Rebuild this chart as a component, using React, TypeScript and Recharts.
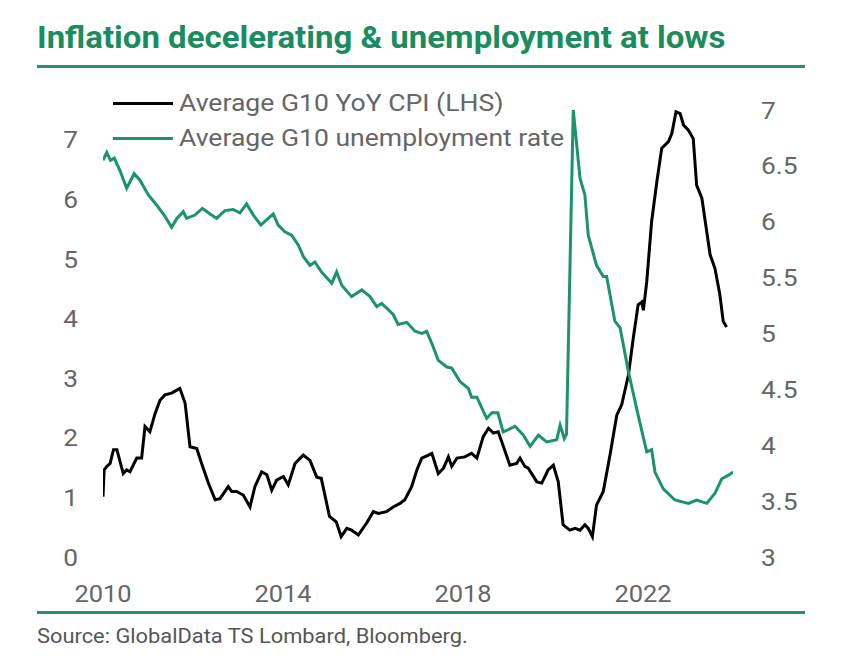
import { LineChart, Line, XAxis, YAxis, Legend } from "recharts"

const GREEN = "#1b9468"
const RULE = "#2a8f6e"
const GREY = "#666666"

// months since Jan 2010
const cpiMonths = [
  0, 0.3, 1, 1.9, 2.8, 3.7, 5.4, 6.3, 7.2, 9, 10.3, 11.2, 12.5, 13.9, 15.2, 16.5, 18.3, 20.5,
  21.9, 23.2, 25, 26.3, 28.1, 29.9, 31.2, 33.4, 34.3, 35.6, 37.4, 39.2, 40.5, 42.3, 43.7, 45,
  46.3, 48.1, 49.4, 51.2, 53.4, 55.2, 57, 58.2, 60.4, 62.2, 63.5, 65, 66.3, 68.1, 70.3, 72.1,
  73.4, 75.6, 77.4, 79.2, 80.5, 82.3, 83.7, 85, 86.8, 87.7, 89.4, 90.8, 92.1, 93, 94.4, 96.5,
  98.3, 99.7, 101.4, 102.8, 104.1, 105.4, 106.8, 108.5, 110.3, 111.2, 112.5, 113.4, 115.7,
  117, 118.7, 120.1, 121.4, 122.7, 124.5, 125.9, 127.2, 128.5, 129.4, 130.5, 131.6, 133.4,
  135.2, 137, 138.3, 140.1, 141.4, 142.7, 143.7, 144.1, 145, 146.3, 147.7, 149, 150.8, 151.7,
  152.8, 153.9, 154.8, 156.1, 157.4, 158.3, 159.7, 161.9, 163.2, 164.5, 165.4, 166.3,
]
const cpiValues = [
  1.01, 1.46, 1.52, 1.57, 1.8, 1.8, 1.4, 1.46, 1.43, 1.66, 1.66, 2.19, 2.1, 2.41, 2.63, 2.72, 2.75, 2.83,
  2.58, 1.85, 1.82, 1.57, 1.24, 0.96, 0.98, 1.18, 1.1, 1.1, 1.04, 0.84, 1.18, 1.43, 1.38, 1.12,
  1.29, 1.35, 1.21, 1.57, 1.71, 1.62, 1.34, 1.32, 0.68, 0.59, 0.34, 0.48, 0.45, 0.37, 0.57, 0.76,
  0.73, 0.76, 0.84, 0.9, 0.96, 1.18, 1.46, 1.66, 1.71, 1.74, 1.4, 1.49, 1.68, 1.52, 1.66, 1.68,
  1.74, 1.66, 2.02, 2.16, 2.08, 2.1, 1.85, 1.54, 1.57, 1.66, 1.52, 1.49, 1.26,
  1.24, 1.46, 1.54, 1.26, 0.54, 0.45, 0.48, 0.45, 0.54, 0.48, 0.34, 0.87, 1.1,
  1.71, 2.38, 2.55, 3.05, 3.67, 4.23, 4.28, 4.14, 4.62, 5.63, 6.3, 6.86, 6.97, 7.11,
  7.47, 7.44, 7.25, 7.16, 7.02, 6.24, 6.02, 5.07, 4.84, 4.4, 3.95, 3.86,
]

const unempMonths = [
  0, 1, 2, 3, 4.5, 6.3, 8.3, 9.9, 12.1, 14.3, 16.5, 18.3, 19.7, 21.4, 22.3, 24.5, 26.5, 28.1,
  30.3, 32.5, 34.7, 36.5, 38.3, 40.1, 42.1, 43.7, 45.4, 46.7, 48.5, 50.3, 52.1, 53.4, 55.2,
  56.5, 58.3, 61, 62.3, 63.7, 66.3, 69, 71.2, 73, 74.3, 77.4, 78.7, 81, 83.2, 85, 86.3, 87.7,
  89.4, 91.7, 93, 95.2, 97.4, 98.3, 99.7, 102.3, 103.7, 105.3, 106.7, 108.1, 109.9, 112.1,
  113.9, 116.1, 118.3, 121, 121.9, 123, 123.6, 125.4, 127.2, 128.5, 129.4, 131.6, 133.4, 134.3,
  136.5, 137.9, 140.1, 142.7, 145, 146.3, 147.2, 149.4, 152.5, 156.1, 158.3, 161, 163.2, 165,
  166.7, 168,
]
const unempValues = [
  6.55, 6.62, 6.55, 6.57, 6.46, 6.3, 6.43, 6.37, 6.24, 6.15, 6.05, 5.95, 6.03, 6.09, 6.03, 6.06, 6.12, 6.08,
  6.03, 6.1, 6.11, 6.08, 6.16, 6.06, 5.97, 6.02, 6.07, 5.97, 5.91, 5.88, 5.79, 5.69, 5.61,
  5.64, 5.55, 5.45, 5.55, 5.43, 5.33, 5.39, 5.33, 5.24, 5.27, 5.17, 5.08, 5.1, 5.02, 5.0, 5.02, 4.91,
  4.76, 4.7, 4.69, 4.57, 4.51, 4.43, 4.43, 4.24, 4.29, 4.29, 4.12, 4.14, 4.17, 4.09,
  3.99, 4.09, 4.03, 4.05, 4.18, 4.06, 4.1, 7.0, 6.39, 6.24, 5.88, 5.61, 5.51, 5.51,
  5.11, 5.05, 4.66, 4.27, 3.94, 3.96, 3.76, 3.61, 3.51, 3.48, 3.51, 3.48, 3.57, 3.7,
  3.73, 3.76,
]

const xTicks = [2010, 2014, 2018, 2022]
const leftTicks = [0, 1, 2, 3, 4, 5, 6, 7]
const rightTicks = [3, 3.5, 4, 4.5, 5, 5.5, 6, 6.5, 7]

const cpiData = cpiMonths.map((m, i) => ({ t: 2010 + m / 12, v: cpiValues[i] }))
const unempData = unempMonths.map((m, i) => ({ t: 2010 + m / 12, v: unempValues[i] }))

const font = "Roboto, 'DejaVu Sans', sans-serif"

// the source picture is a little wider than Roboto, so labels get a mild horizontal stretch
const XTick = ({ x, y, payload }: any) => (
  <g transform={`translate(${x},${y}) scale(1.06,1)`}>
    <text x={0} y={0} dy={45} textAnchor="middle" fill={GREY} fontSize={24} fontFamily={font}>
      {payload.value}
    </text>
  </g>
)
const LeftTick = ({ x, y, payload }: any) => (
  <g transform={`translate(${x},${y}) scale(1.12,1)`}>
    <text x={0} y={0} dy={8.5} textAnchor="end" fill={GREY} fontSize={23.5} fontFamily={font}>
      {payload.value}
    </text>
  </g>
)
const RightTick = ({ x, y, payload }: any) => (
  <g transform={`translate(${x},${y}) scale(1.12,1)`}>
    <text x={0} y={0} dy={8.5} textAnchor="start" fill={GREY} fontSize={23.5} fontFamily={font}>
      {payload.value}
    </text>
  </g>
)

const renderLegend = (props: any) => (
  <div>
    {(props.payload || []).map((e: any) => (
      <div key={e.value} style={{ display: "flex", alignItems: "center", height: 35 }}>
        <span style={{ display: "inline-block", width: 60, height: 3, background: e.color, marginTop: 2 }} />
        <span
          style={{
            marginLeft: 6,
            fontSize: 23.5,
            color: GREY,
            fontFamily: font,
            whiteSpace: "nowrap",
            display: "inline-block",
            transform: "scaleX(1.13)",
            transformOrigin: "left center",
          }}
        >
          {e.value}
        </span>
      </div>
    ))}
  </div>
)

export default function App() {
  return (
    <div style={{ position: "absolute", left: 0, top: 0, width: 848, height: 668, background: "#fff", overflow: "hidden" }}>
      <div
        style={{
          position: "absolute",
          left: 37,
          top: 18,
          fontFamily: font,
          fontWeight: 700,
          fontSize: 32,
          color: "#1a8c5e",
          whiteSpace: "nowrap",
          transform: "scaleX(1.03)",
          transformOrigin: "left top",
        }}
      >
        Inflation decelerating &amp; unemployment at lows
      </div>
      <div style={{ position: "absolute", left: 37, top: 65, width: 768, height: 3, background: RULE }} />

      <div style={{ position: "absolute", left: 0, top: 0 }}>
        <LineChart width={848} height={668} data={cpiData} margin={{ top: 110, right: 0, bottom: 71, left: 0 }}>
          <XAxis
            dataKey="t"
            type="number"
            domain={[2010, 2024]}
            ticks={xTicks}
            height={40}
            axisLine={false}
            tickLine={false}
            tickSize={0}
            tickMargin={0}
            tick={<XTick />}
            allowDataOverflow
          />
          <YAxis
            yAxisId="left"
            orientation="left"
            domain={[0, 7.5]}
            ticks={leftTicks}
            width={103}
            axisLine={false}
            tickLine={false}
            tickSize={0}
            tickMargin={25}
            tick={<LeftTick />}
            allowDataOverflow
          />
          <YAxis
            yAxisId="right"
            orientation="right"
            domain={[3, 7]}
            ticks={rightTicks}
            width={115}
            axisLine={false}
            tickLine={false}
            tickSize={0}
            tickMargin={28}
            tick={<RightTick />}
            allowDataOverflow
          />
          <Legend
            layout="vertical"
            align="center"
            verticalAlign="middle"
            content={renderLegend}
            wrapperStyle={{ left: 113, top: 85, width: 520 }}
          />
          <Line
            yAxisId="left"
            data={cpiData}
            dataKey="v"
            name="Average G10 YoY CPI (LHS)"
            stroke="#000000"
            strokeWidth={3}
            dot={false}
            type="linear"
            isAnimationActive={false}
          />
          <Line
            yAxisId="right"
            data={unempData}
            dataKey="v"
            name="Average G10 unemployment rate"
            stroke={GREEN}
            strokeWidth={3}
            dot={false}
            type="linear"
            isAnimationActive={false}
          />
        </LineChart>
      </div>

      <div style={{ position: "absolute", left: 37, top: 611, width: 768, height: 3, background: RULE }} />
      <div
        style={{
          position: "absolute",
          left: 37,
          top: 625,
          fontFamily: font,
          fontSize: 19.5,
          color: "#555",
          whiteSpace: "nowrap",
          transform: "scaleX(1.12)",
          transformOrigin: "left top",
        }}
      >
        Source: GlobalData TS Lombard, Bloomberg.
      </div>
    </div>
  )
}
